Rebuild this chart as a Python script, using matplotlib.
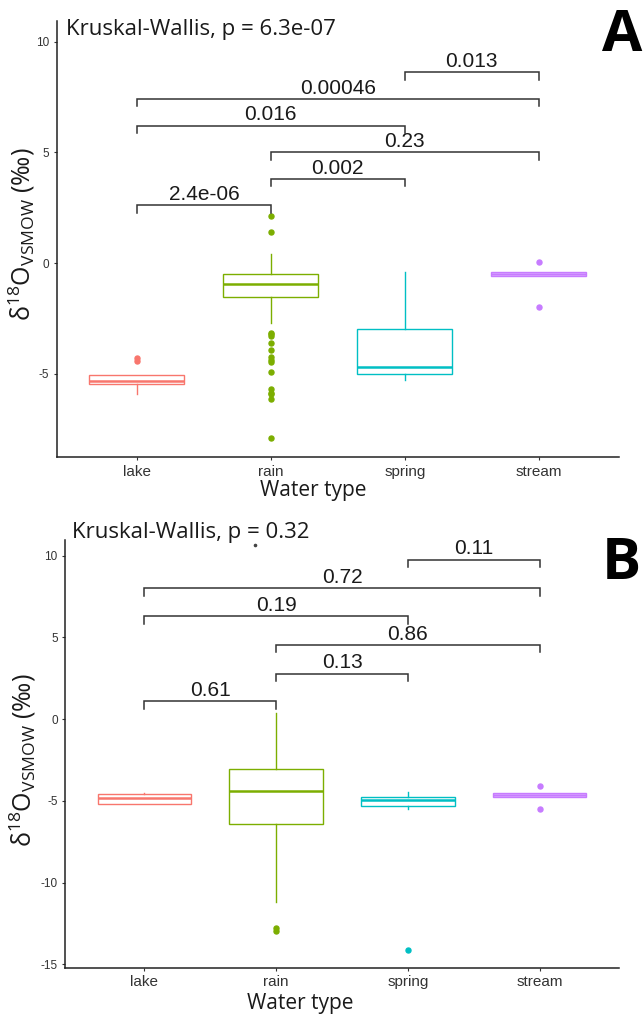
import matplotlib
matplotlib.use('Agg')
import matplotlib.pyplot as plt
from matplotlib.lines import Line2D

plt.rcParams['font.family'] = ['Liberation Sans', 'DejaVu Sans']
plt.rcParams['mathtext.fontset'] = 'custom'
plt.rcParams['mathtext.rm'] = 'Open Sans'
plt.rcParams['mathtext.it'] = 'Open Sans:italic'

groups = ['lake', 'rain', 'spring', 'stream']
colors = ['#F8766D', '#7CAE00', '#00BFC4', '#C77CFF']
pairs = [(1, 2), (2, 3), (2, 4), (1, 3), (1, 4), (3, 4)]

# panel A (box summaries)
a_q1 = [-5.46, -1.54, -5.02, -0.56]
a_med = [-5.31, -0.92, -4.71, -0.48]
a_q3 = [-5.07, -0.51, -2.97, -0.42]
a_lo = [-5.91, -2.70, -5.29, -0.56]
a_hi = [-5.04, 0.42, -0.42, -0.42]
a_out = [[-4.30, -4.40],
         [2.13, 1.42, -3.15, -3.21, -3.29, -3.59, -3.94, -4.24, -4.36, -4.45,
          -4.92, -5.67, -5.84, -5.91, -6.14, -7.90],
         [],
         [0.03, -2.00]]
a_bracket_y = [2.61, 3.80, 5.01, 6.21, 7.41, 8.62]
a_p = ['2.4e-06', '0.002', '0.23', '0.016', '0.00046', '0.013']
a_kw = 'Kruskal-Wallis, p = 6.3e-07'

# panel B
b_q1 = [-5.18, -6.42, -5.30, -4.79]
b_med = [-4.81, -4.38, -4.97, -4.66]
b_q3 = [-4.60, -3.03, -4.77, -4.52]
b_lo = [-5.18, -11.19, -5.52, -4.79]
b_hi = [-4.52, 0.40, -4.46, -4.52]
b_out = [[], [-12.80, -12.95], [-14.13], [-4.09, -5.52]]
b_bracket_y = [1.08, 2.78, 4.54, 6.30, 8.01, 9.75]
b_p = ['0.61', '0.13', '0.86', '0.19', '0.72', '0.11']
b_kw = 'Kruskal-Wallis, p = 0.32'

W, H = 644, 1015
fig = plt.figure(figsize=(W / 100, H / 100), dpi=100)


def px_axes(left, right, top, bottom):
    return fig.add_axes([left / W, 1 - bottom / H, (right - left) / W, (bottom - top) / H])


def panel(ax, q1, med, q3, lo, hi, out, br_y, br_p, yticks, ylim):
    for i in range(len(groups)):
        st = dict(q1=q1[i], med=med[i], q3=q3[i], whislo=lo[i], whishi=hi[i], fliers=out[i])
        c = colors[i]
        ax.bxp([st], positions=[i + 1], widths=0.71, showcaps=False, patch_artist=True,
               boxprops=dict(facecolor='white', edgecolor=c, linewidth=1.0),
               medianprops=dict(color=c, linewidth=1.8),
               whiskerprops=dict(color=c, linewidth=1.0),
               flierprops=dict(marker='o', markerfacecolor=c, markeredgecolor=c, markersize=3.6))
    tip = 0.0172 * (ylim[1] - ylim[0])
    for (i, j), y, p in zip(pairs, br_y, br_p):
        ax.plot([i, i, j, j], [y - tip, y, y, y - tip], color='#333333', lw=1.1,
                solid_joinstyle='miter')
        ax.annotate(p, ((i + j) / 2, y), xytext=(0, 1), textcoords='offset points',
                    ha='center', va='bottom', fontsize=15, color='#1a1a1a')
    ax.set_xlim(0.4, 4.6)
    ax.set_ylim(*ylim)
    ax.set_xticks(range(1, 5))
    ax.set_xticklabels(groups, fontsize=11, color='#333333')
    ax.set_yticks(yticks)
    ax.set_yticklabels([str(t) for t in yticks], fontsize=8.5, color='#333333')
    ax.tick_params(length=2.5, width=0.8, color='#333333', pad=3)
    for s in ['top', 'right']:
        ax.spines[s].set_visible(False)
    for s in ['left', 'bottom']:
        ax.spines[s].set_linewidth(1.1)
        ax.spines[s].set_color('#222222')


ax_a = px_axes(56.6, 619, 21, 457)
panel(ax_a, a_q1, a_med, a_q3, a_lo, a_hi, a_out, a_bracket_y, a_p, [-5, 0, 5, 10], (-8.75, 10.93))
ax_b = px_axes(65.4, 618.6, 540, 967.7)
panel(ax_b, b_q1, b_med, b_q3, b_lo, b_hi, b_out, b_bracket_y, b_p, [-15, -10, -5, 0, 5, 10], (-15.21, 10.96))

ylab = 'δ$^{18}$O$_{\\mathrm{VSMOW}}$ (‰)'
head = ['Open Sans', 'DejaVu Sans']
for (tx, ty), (lx, ly), (yx, yy), kw in [
        ((66, 35), (313, 491), (22, 234), a_kw),
        ((72, 538), (300, 1004), (23, 760), b_kw)]:
    fig.text(tx / W, 1 - ty / H, kw, fontsize=16, family=head, color='#1a1a1a', va='baseline')
    fig.text(lx / W, 1 - ly / H, 'Water type', fontsize=15, family=head, color='#1a1a1a',
             ha='center', va='center')
    fig.text(yx / W, 1 - yy / H, ylab, fontsize=18, family=head, color='#1a1a1a',
             rotation=90, ha='center', va='center')

fig.text(622 / W, 1 - 36 / H, 'A', fontsize=42, family=head, weight='bold', ha='center', va='center')
fig.text(621 / W, 1 - 564 / H, 'B', fontsize=42, family=head, weight='bold', ha='center', va='center')
# small stray dot under the "p" of panel B's test label
fig.add_artist(Line2D([255 / W], [1 - 545 / H], marker='o', markersize=1.6,
                      color='#444444', transform=fig.transFigure))

fig.savefig('out.png', dpi=100, facecolor='white')
